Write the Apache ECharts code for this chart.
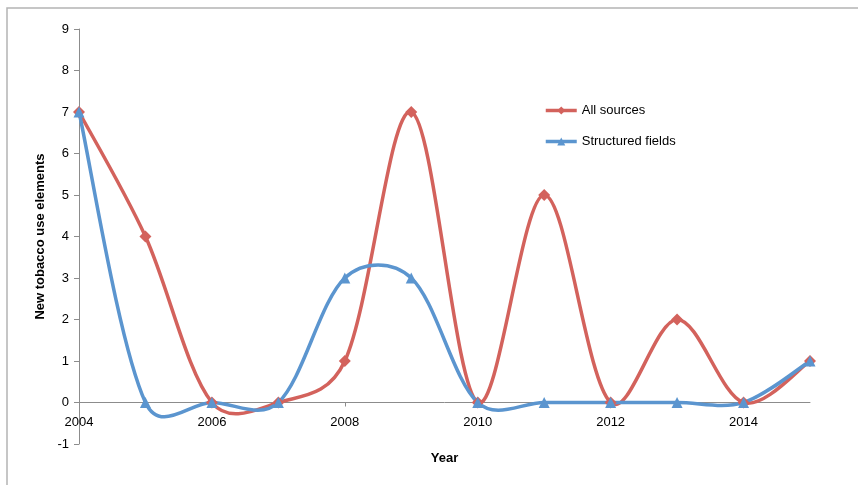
<!DOCTYPE html>
<html>
<head>
<meta charset="utf-8">
<script src="https://cdn.jsdelivr.net/npm/echarts@6/dist/echarts.min.js"></script>
<style>html,body{margin:0;padding:0;background:#fff;}#c{width:858px;height:485px;}</style>
</head>
<body>
<div id="c"></div>
<script>
const years = [2004,2005,2006,2007,2008,2009,2010,2011,2012,2013,2014,2015];
const allSources = [7,4,0,0,1,7,0,5,0,2,0,1];
const structuredFields = [7,0,0,0,3,3,0,0,0,0,0,1];
const seriesNames = ['All sources','Structured fields'];
const xTitle = 'Year';
const yTitle = 'New tobacco use elements';

const chart = echarts.init(document.getElementById('c'), null, {renderer:'canvas'});
const font = "'Liberation Sans', Arial, sans-serif";
const red = '#D3625C', blue = '#5B95CF';
const W = 858, H = 485, gridTop = 29, gridBottom = 41, yMin = -1, yMax = 9;
const unitPx = (H - gridTop - gridBottom) / (yMax - yMin);

// Excel-like smoothed curve built from the data, mapped through the axes via api.coord
function smoothCurve(values, color) {
  return function(params, api) {
    if (params.dataIndex !== 0) return null;
    const pts = years.map((y,i)=>api.coord([y, values[i]]));
    const n = pts.length;
    const d = (a,b)=>Math.hypot(b[0]-a[0], b[1]-a[1]);
    const cmds = [];
    cmds.push('M' + pts[0][0] + ' ' + pts[0][1]);
    for (let i=0;i<n-1;i++){
      const p0 = pts[Math.max(i-1,0)], p1 = pts[i], p2 = pts[i+1], p3 = pts[Math.min(i+2,n-1)];
      let s1 = 1, s2 = 1;
      if (i>0) { const a=d(p0,p1), b=d(p1,p2); s1 = Math.pow(2*b/(a+b), 0.4); }
      if (i+2<n) { const a=d(p1,p2), b=d(p2,p3); s2 = Math.pow(2*a/(a+b), 0.4); }
      const c1 = [p1[0] + (p2[0]-p0[0])/6*s1, p1[1] + (p2[1]-p0[1])/6*s1];
      const c2 = [p2[0] - (p3[0]-p1[0])/6*s2, p2[1] - (p3[1]-p1[1])/6*s2];
      cmds.push('C' + c1[0] + ' ' + c1[1] + ' ' + c2[0] + ' ' + c2[1] + ' ' + p2[0] + ' ' + p2[1]);
    }
    return {
      type:'path',
      shape:{pathData:cmds.join(' ')},
      style:{fill:'none', stroke:color, lineWidth:3.5, lineJoin:'round'},
      silent:true
    };
  };
}

chart.setOption({
  animation:false,
  backgroundColor:'#fff',
  graphic:[{type:'rect',shape:{x:7,y:8,width:900,height:600},style:{fill:'none',stroke:'#b4b4b4',lineWidth:1.5},silent:true}],
  grid:{left:79,right:48,top:gridTop,bottom:gridBottom,outerBoundsMode:'none',containLabel:false},
  legend:{
    orient:'vertical',left:544,top:104,padding:0,itemWidth:31,itemHeight:10,itemGap:18,
    textStyle:{fontFamily:font,fontSize:13,color:'#000'},
    lineStyle:{opacity:1,width:3.5},
    data:seriesNames
  },
  xAxis:{
    type:'value',min:2004,max:2015,interval:2,
    offset:-unitPx,
    name:xTitle,nameLocation:'middle',nameGap:49,
    nameTextStyle:{fontFamily:font,fontSize:13,fontWeight:'bold',color:'#000'},
    axisLine:{onZero:false,lineStyle:{color:'#8c8c8c',width:1}},
    axisTick:{show:true,length:4,lineStyle:{color:'#8c8c8c'}},
    axisLabel:{fontFamily:font,fontSize:13,color:'#000',margin:13,showMaxLabel:false,formatter:v=>String(v)},
    splitLine:{show:false}
  },
  yAxis:{
    type:'value',min:yMin,max:yMax,interval:1,
    name:yTitle,nameLocation:'middle',nameGap:31,nameRotate:90,
    nameTextStyle:{fontFamily:font,fontSize:13,fontWeight:'bold',color:'#000'},
    axisLine:{show:true,lineStyle:{color:'#8c8c8c',width:1}},
    axisTick:{show:true,length:5,lineStyle:{color:'#8c8c8c'}},
    axisLabel:{fontFamily:font,fontSize:13,color:'#000',margin:10},
    splitLine:{show:false}
  },
  series:[
    {type:'custom',renderItem:smoothCurve(allSources, red),data:years.map((y,i)=>[y,allSources[i]]),z:2,silent:true,clip:false},
    {type:'custom',renderItem:smoothCurve(structuredFields, blue),data:years.map((y,i)=>[y,structuredFields[i]]),z:3,silent:true,clip:false},
    {name:seriesNames[0],type:'line',symbol:'diamond',symbolSize:12,
     data:years.map((y,i)=>[y,allSources[i]]),
     lineStyle:{color:red,width:3.5,opacity:0},itemStyle:{color:red},z:4},
    {name:seriesNames[1],type:'line',symbol:'triangle',symbolSize:11,
     data:years.map((y,i)=>[y,structuredFields[i]]),
     lineStyle:{color:blue,width:3.5,opacity:0},itemStyle:{color:blue},z:5}
  ]
});
</script>
</body>
</html>
